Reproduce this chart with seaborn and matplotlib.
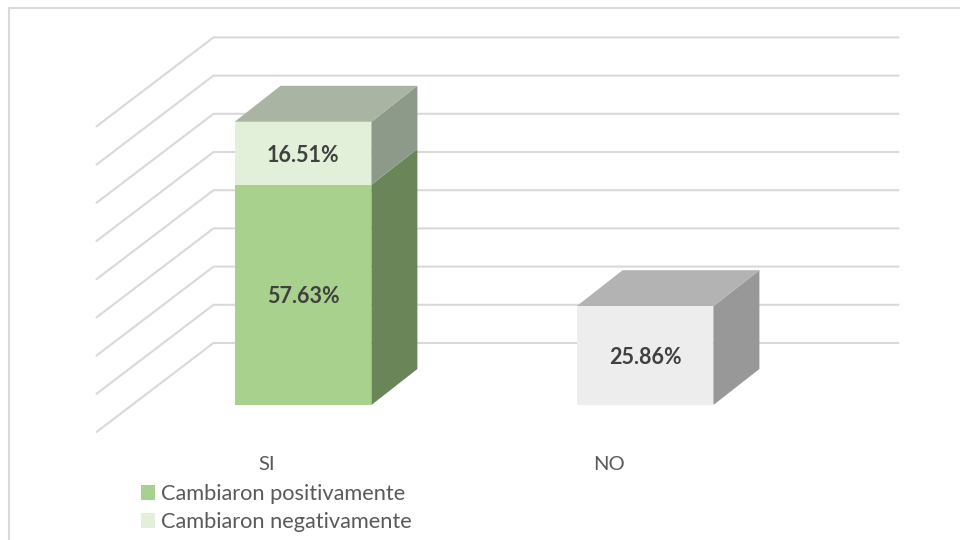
import matplotlib
matplotlib.use("Agg")
import matplotlib.pyplot as plt
import numpy as np
import pandas as pd
import seaborn as sns
from matplotlib.patches import Polygon

categories = ["SI", "NO"]
positivo = [57.63, 0]
negativo = [16.51, 0]
no_cambio = [0, 25.86]
ticks = [0, 10, 20, 30, 40, 50, 60, 70, 80]

df = pd.DataFrame({"cat": categories, "pos": positivo, "neg": negativo, "no": no_cambio})

sns.set_theme(style="white")
plt.rcParams["font.family"] = ["Lato", "DejaVu Sans"]

fig = plt.figure(figsize=(9.6, 5.4), dpi=100)
ax = fig.add_axes([0, 0, 1, 1])

# one axes over the whole figure, the 3d look is just offsets in data units
ppx = 342.0   # pixels per category
ppy = 3.82    # pixels per percent
x_lim = (-303 / ppx, 657 / ppx)
y_lim = (-135 / ppy, 405 / ppy)

dx = 46 / ppx
dy = 36 / ppy

# grid, back wall + floor side
grid_color = "#d9d9d9"
wall_x0 = -89.5 / ppx
wall_x1 = 595.5 / ppx
wall_dy = 62 / ppy
side_x0 = -206.5 / ppx
side_dy = -27 / ppy
for t in ticks:
    ax.plot([side_x0, wall_x0, wall_x1], [t + side_dy, t + wall_dy, t + wall_dy],
            color=grid_color, lw=1.5, zorder=1, solid_joinstyle="miter")

# front faces
sns.barplot(data=df, x="cat", y="pos", color="#a9d18e", width=0.4, saturation=1, linewidth=0,
            order=categories, ax=ax, label="Cambiaron positivamente", zorder=3)
sns.barplot(data=df, x="cat", y="neg", bottom=df["pos"], color="#e2efd9", width=0.4, saturation=1, linewidth=0,
            order=categories, ax=ax, label="Cambiaron negativamente", zorder=3)
sns.barplot(data=df, x="cat", y="no", color="#ededed", width=0.4, saturation=1, linewidth=0,
            order=categories, ax=ax, zorder=3)
ax.set_xlim(*x_lim)
ax.set_ylim(*y_lim)
ax.axis("off")

side_colors = ["#6a8558", "#8e9a89", "#989898"]
top_colors = {"#e2efd9": "#a9b5a2", "#ededed": "#b3b3b3"}
for cont, side in zip(ax.containers, side_colors):
    for bar in cont:
        h = bar.get_height()
        if h == 0:
            continue
        x0, x1 = bar.get_x(), bar.get_x() + bar.get_width()
        y0, y1 = bar.get_y(), bar.get_y() + h
        ax.add_patch(Polygon([(x1, y0), (x1 + dx, y0 + dy), (x1 + dx, y1 + dy), (x1, y1)],
                             fc=side, ec="none", zorder=2.8))
        ax.text((x0 + x1) / 2, (y0 + y1) / 2 - 2 / ppy, f"{h:.2f}%", ha="center", va="center",
                fontsize=15.5, fontweight="bold", color="#404040", zorder=5)
        fc = matplotlib.colors.to_hex(bar.get_facecolor())
        if fc in top_colors:
            ax.add_patch(Polygon([(x0, y1), (x0 + dx, y1 + dy), (x1 + dx, y1 + dy), (x1, y1)],
                                 fc=top_colors[fc], ec="none", zorder=2.8))

# category labels sit on the front edge of the floor
for i, c in enumerate(categories):
    ax.text(i - 36 / ppx, -59 / ppy, c, ha="center", va="center", fontsize=14.5, color="#595959")

handles, labels = ax.get_legend_handles_labels()
ax.legend(handles[:2], labels[:2], loc="lower left", bbox_to_anchor=(141 / 960, 8 / 540),
          frameon=False, fontsize=15.7, labelcolor="#595959", handlelength=0.64, handleheight=0.64,
          handletextpad=0.28, labelspacing=0.35, borderpad=0, borderaxespad=0)

# chart frame, only left and top are in the picture
frame_x = [9 / 960, 9 / 960, 1]
frame_y = [0, 1 - 8 / 540, 1 - 8 / 540]
ax.plot(frame_x, frame_y, transform=ax.transAxes, color="#d9d9d9", lw=1.5, zorder=0, clip_on=False)

fig.savefig("out.png", dpi=100)
